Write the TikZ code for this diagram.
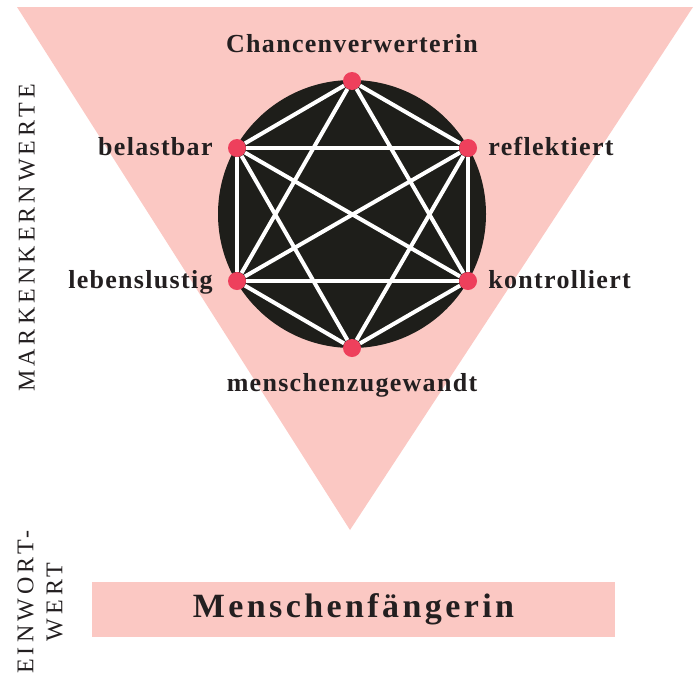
\documentclass[tikz,border=0pt]{standalone}
\usepackage{fontspec}
\setmainfont{Liberation Serif}
\newfontfamily\lblfont[LetterSpace=5]{Liberation Serif}
\newfontfamily\capsfont[LetterSpace=17]{Liberation Serif}
\newfontfamily\wortfont[LetterSpace=10]{Liberation Serif}
\usetikzlibrary{positioning}
\definecolor{KWPink}{RGB}{251,200,195}
\definecolor{KWBlack}{RGB}{30,30,26}
\definecolor{KWRed}{RGB}{238,64,92}
\definecolor{KWText}{RGB}{35,31,32}

\begin{document}
\begin{tikzpicture}[x=1pt, y=-1pt,
    dot/.style={circle, fill=KWRed, inner sep=0pt, minimum size=18pt},
    lbl/.style={font=\lblfont\fontsize{26}{30}\selectfont\bfseries, text=KWText, inner sep=0pt},
    capslbl/.style={font=\capsfont\fontsize{24}{29}\selectfont, text=KWText, inner sep=0pt, rotate=90, align=center},
    link/.style={draw=white, line width=4pt}
  ]
  \useasboundingbox (0,0) rectangle (698,675);

  % triangle and circle
  \fill[KWPink] (17,7) -- (693,7) -- (350,530) -- cycle;
  \fill[KWBlack] (352,214) circle[radius=134pt];

  % hexagon vertices
  \node[dot] (v1) at (352,81)  {};
  \node[dot] (v2) at (237,148) {};
  \node[dot] (v3) at (468,148) {};
  \node[dot] (v4) at (237,281) {};
  \node[dot] (v5) at (468,281) {};
  \node[dot] (v6) at (352,348) {};

  % all links except top-bottom
  \foreach \a/\b in {v1/v2, v1/v3, v1/v4, v1/v5,
                     v2/v3, v2/v4, v2/v5, v2/v6,
                     v3/v4, v3/v5, v3/v6,
                     v4/v5, v4/v6, v5/v6}
    \draw[link] (\a) -- (\b);

  % labels
  \node[lbl, above=19pt of v1] (l1) {Chancenverwerterin};
  \node[lbl, anchor=base east] (l2) at ([xshift=-15pt, yshift=-7pt]v2.west) {belastbar};
  \node[lbl, anchor=base west] (l3) at ([xshift=11pt, yshift=-7pt]v3.east) {reflektiert};
  \node[lbl, anchor=base east] (l4) at ([xshift=-15pt, yshift=-7pt]v4.west) {lebenslustig};
  \node[lbl, anchor=base west] (l5) at ([xshift=11pt, yshift=-7pt]v5.east) {kontrolliert};
  \node[lbl, below=16pt of v6] (l6) {menschenzugewandt};

  % side captions
  \node[capslbl] (mkw) at (27,238) {MARKENKERNWERTE};
  \node[capslbl] (eww) at (40,602) {EINWORT-\\WERT};

  % one-word value
  \node[fill=KWPink, minimum width=523pt, minimum height=55pt, inner sep=0pt,
        font=\wortfont\fontsize{34}{38}\selectfont\bfseries, text=KWText]
        (wort) at (353.5,609.5) {Menschenfängerin};
\end{tikzpicture}
\end{document}
